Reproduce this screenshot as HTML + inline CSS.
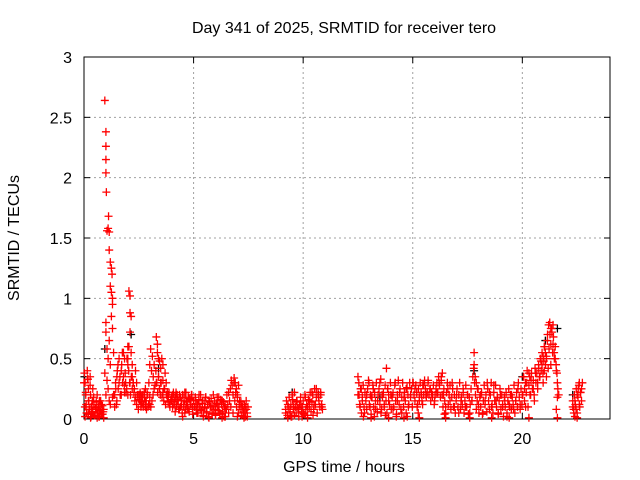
<!DOCTYPE html>
<html><head><meta charset="utf-8"><style>
body{margin:0;background:#fff;}
svg{display:block;font-family:"Liberation Sans",sans-serif;font-size:16px;}
</style></head><body>
<svg id="chart" width="640" height="480">
<rect width="640" height="480" fill="#fff"/>
<g id="grid"></g>
<g id="axes"></g>
<g id="marks"></g>
<text x="344" y="33" text-anchor="middle">Day 341 of 2025, SRMTID for receiver tero</text>
<text x="344" y="472" text-anchor="middle">GPS time / hours</text>
<text transform="translate(19,238) rotate(-90)" text-anchor="middle">SRMTID / TECUs</text>
</svg>
<script>
const xTicks=[0,5,10,15,20];
const yTicks=[0,0.5,1,1.5,2,2.5,3];
const yTickLabels=["0","0.5","1","1.5","2","2.5","3"];
const redHours=[0.02,0.05,0.08,0.1,0.12,0.15,0.18,0.2,0.22,0.25,0.28,0.3,0.33,0.35,0.38,0.4,0.45,0.5,0.55,0.6,0.65,0.7,0.75,0.8,0.85,0.9,0.05,0.2,0.6,0.7,0.4,
0.95,1.0,1.0,1.0,1.0,1.02,1.05,1.1,1.12,1.15,1.15,1.2,1.25,1.28,1.2,1.25,1.3,1.3,1.25,1.0,1.0,1.05,1.15,1.1,1.2,1.05,1.1,0.95,1.15,1.0,1.3,1.35,1.35,1.4,
1.45,1.5,1.55,1.6,1.65,1.7,1.75,1.8,1.85,1.9,1.95,1.5,1.7,1.85,2.0,
2.05,2.1,2.1,2.15,2.1,2.05,2.15,2.2,2.0,2.2,2.25,2.3,2.35,2.4,2.1,2.0,
2.5,2.55,2.6,2.65,2.7,2.75,2.8,2.85,2.9,2.95,3.0,3.05,3.1,3.15,3.2,2.6,2.8,3.0,
3.3,3.35,3.35,3.4,3.45,3.5,3.55,3.6,3.4,3.5,3.6,3.65,3.7,3.75,3.8,3.85,3.3,3.45,3.9,
4.0,4.05,4.1,4.15,4.2,4.25,4.3,4.35,4.4,4.45,4.5,4.55,4.6,4.65,4.7,4.75,4.8,4.85,4.9,4.95,4.2,4.6,5.0,
5.05,5.1,5.15,5.2,5.3,5.4,5.5,5.6,5.7,5.8,5.9,6.0,6.1,6.2,6.3,6.4,6.5,5.25,5.55,5.85,6.15,6.45,6.0,5.45,
6.6,6.7,6.85,6.9,6.95,7.0,7.05,7.1,7.2,7.3,7.4,7.45,7.35,6.8,7.0,
9.2,9.3,9.4,9.5,9.55,9.6,9.7,9.8,9.9,10.0,10.1,10.2,10.3,10.4,10.5,10.6,10.7,10.8,10.85,9.45,9.95,10.45,
12.5,12.55,12.6,12.65,12.7,12.8,12.9,13.0,13.05,13.1,13.2,13.3,13.4,13.5,13.55,13.6,13.7,13.8,13.85,13.9,14.0,14.1,14.2,14.3,14.4,14.5,14.6,14.7,14.8,14.9,15.0,12.75,13.25,13.75,14.25,14.75,
15.1,15.2,15.3,15.4,15.5,15.6,15.7,15.8,15.9,16.0,16.1,16.2,16.3,16.35,16.4,16.5,16.6,16.7,16.8,16.9,15.25,16.45,15.45,
17.0,17.1,17.2,17.3,17.4,17.5,17.6,17.7,17.8,17.8,17.85,17.9,17.95,18.0,18.1,18.2,18.3,18.4,18.5,18.6,18.7,18.8,18.9,19.0,19.1,19.2,19.3,19.4,19.5,19.6,19.7,19.8,19.9,20.0,
20.05,20.1,20.15,20.2,20.3,20.35,20.4,20.5,20.55,20.6,20.7,20.75,20.8,20.85,20.9,20.95,21.0,21.05,21.1,21.15,21.2,21.25,21.3,21.35,21.4,21.45,21.5,21.55,21.6,21.6,21.55,21.0,21.1,21.3,20.95,21.4,
22.3,22.35,22.4,22.45,22.5,22.55,22.6,22.65,22.7,22.4,22.6,
0.3,0.6,0.9,1.2,1.3,4.5,5.7,6.3,7.3,9.3,10.2,13.1,13.9,14.6,15.3,16.5,17.6,18.6,19.4,20.3,21.6,22.5];
const redValues=[0.38,0.3,0.22,0.12,0.05,0.4,0.33,0.25,0.15,0.08,0.35,0.2,0.1,0.04,0.15,0.06,0.12,0.03,0.08,0.05,0.1,0.02,0.06,0.12,0.04,0.08,0.02,0.04,0.2,0.15,0.25,
2.64,2.38,2.26,2.15,2.04,1.88,1.56,1.58,1.68,1.55,1.4,1.3,1.25,1.2,1.1,1.05,1.0,0.95,0.85,0.8,0.72,0.58,0.65,0.5,0.45,0.32,0.25,0.38,0.15,0.2,0.75,0.55,0.2,0.1,
0.25,0.35,0.45,0.3,0.2,0.4,0.55,0.35,0.5,0.3,0.25,0.15,0.2,0.22,0.45,
1.06,1.02,0.88,0.85,0.72,0.6,0.55,0.45,0.5,0.35,0.3,0.25,0.4,0.3,0.3,0.2,
0.2,0.15,0.12,0.18,0.1,0.22,0.15,0.08,0.2,0.12,0.18,0.1,0.15,0.2,0.25,0.2,0.1,0.12,
0.68,0.62,0.55,0.5,0.48,0.42,0.5,0.45,0.35,0.3,0.32,0.25,0.38,0.3,0.22,0.2,0.3,0.25,0.12,
0.15,0.2,0.12,0.18,0.1,0.2,0.15,0.08,0.18,0.12,0.2,0.1,0.15,0.22,0.12,0.08,0.17,0.12,0.2,0.1,0.22,0.05,0.15,
0.1,0.15,0.05,0.12,0.08,0.15,0.1,0.05,0.15,0.1,0.2,0.08,0.12,0.05,0.15,0.1,0.08,0.2,0.18,0.04,0.18,0.02,0.03,0.02,
0.22,0.1,0.34,0.3,0.25,0.2,0.28,0.15,0.1,0.05,0.15,0.02,0.1,0.05,0.02,
0.05,0.12,0.08,0.2,0.1,0.03,0.15,0.08,0.12,0.05,0.18,0.1,0.15,0.22,0.12,0.25,0.18,0.22,0.1,0.02,0.02,0.03,
0.35,0.2,0.1,0.25,0.15,0.05,0.2,0.3,0.1,0.18,0.25,0.08,0.15,0.3,0.05,0.2,0.12,0.42,0.25,0.15,0.2,0.08,0.3,0.15,0.22,0.05,0.18,0.25,0.1,0.2,0.3,0.02,0.02,0.03,0.02,0.02,
0.25,0.1,0.15,0.2,0.28,0.2,0.32,0.25,0.2,0.15,0.22,0.3,0.35,0.38,0.2,0.1,0.25,0.15,0.3,0.1,0.05,0.04,0.12,
0.2,0.05,0.15,0.25,0.1,0.2,0.05,0.15,0.55,0.45,0.35,0.3,0.25,0.12,0.2,0.05,0.15,0.3,0.22,0.1,0.28,0.15,0.05,0.2,0.1,0.15,0.02,0.12,0.2,0.08,0.15,0.25,0.12,0.2,
0.35,0.25,0.1,0.3,0.38,0.2,0.32,0.25,0.15,0.38,0.3,0.42,0.35,0.48,0.45,0.52,0.6,0.55,0.5,0.7,0.78,0.8,0.75,0.72,0.62,0.55,0.5,0.4,0.3,0.18,0.08,0.4,0.35,0.45,0.3,0.78,
0.1,0.05,0.15,0.08,0.2,0.25,0.3,0.22,0.25,0.02,0.12,
0.01,0.01,0.01,0.12,0.18,0.02,0.01,0.01,0.01,0.01,0.01,0.01,0.01,0.01,0.01,0.01,0.01,0.01,0.01,0.01,0.01,0.01];
const runStartHours=[0.0,1.4,4.0,9.2,12.5,22.3];
const runValues=[
[0.3,0.1,0.2,0.05,0.33,0.15,0.08,0.28,0.02,0.12,0.06,0.18,0.03,0.09,0.14,0.05,0.1,0.02,0.07,0.15,0.04,0.11,0.06],
[0.2,0.3,0.12,0.4,0.25,0.5,0.35,0.2,0.45,0.3,0.55,0.28,0.38,0.22,0.5,0.6,0.4,0.3,0.2,0.35,0.25,0.3,0.22,0.15,0.18,0.12,0.2,0.08,0.16,0.22,0.1,0.14,0.2,0.12,0.18,0.25,0.15,0.22,0.1,0.3,0.45,0.58,0.4,0.52,0.35,0.45,0.28,0.4,0.3,0.22,0.35,0.25,0.2,0.3,0.18,0.22,0.15,0.25,0.12,0.2,0.18,0.14,0.22,0.1,0.16],
[0.18,0.1,0.22,0.14,0.06,0.2,0.12,0.16,0.08,0.2,0.1,0.15,0.05,0.18,0.12,0.22,0.08,0.14,0.1,0.18,0.06,0.16,0.12,0.2,0.04,0.15,0.1,0.18,0.08,0.12,0.05,0.16,0.1,0.2,0.07,0.13,0.03,0.15,0.09,0.18,0.06,0.12,0.02,0.14,0.1,0.17,0.05,0.11,0.08,0.15,0.03,0.13,0.18,0.07,0.1,0.04,0.16,0.12,0.06,0.14,0.02,0.1,0.08,0.2,0.12,0.05,0.15,0.25,0.32,0.28,0.2,0.3,0.15,0.22,0.1,0.18,0.05,0.12,0.08,0.14,0.03,0.1,0.06,0.12,0.02,0.08,0.05,0.1],
[0.08,0.15,0.03,0.1,0.18,0.06,0.12,0.02,0.16,0.08,0.22,0.1,0.05,0.14,0.09,0.02,0.12,0.18,0.06,0.1,0.15,0.04,0.2,0.08,0.12,0.03,0.16,0.1,0.22,0.06,0.14,0.2,0.08,0.25,0.12,0.18,0.05,0.22,0.15,0.1,0.2,0.12,0.08],
[0.2,0.3,0.12,0.25,0.05,0.18,0.28,0.1,0.22,0.15,
0.08,0.25,0.32,0.12,0.2,0.04,0.18,0.28,0.1,0.22,
0.15,0.3,0.06,0.2,0.25,0.12,0.33,0.08,0.18,0.22,
0.1,0.28,0.15,0.05,0.25,0.2,0.12,0.3,0.08,0.18,
0.22,0.1,0.28,0.15,0.04,0.2,0.32,0.12,0.25,0.08,
0.18,0.3,0.1,0.22,0.15,0.05,0.26,0.2,0.12,0.3,
0.18,0.25,0.1,0.3,0.2,0.15,0.28,0.22,0.12,0.25,
0.18,0.3,0.22,0.15,0.28,0.2,0.32,0.25,0.18,0.22,
0.3,0.2,0.25,0.15,0.22,0.18,0.28,0.12,0.2,0.25,
0.3,0.22,0.35,0.28,0.18,0.32,0.2,0.1,0.25,0.15,
0.05,0.22,0.3,0.12,0.2,0.28,0.08,0.18,0.25,0.1,
0.2,0.05,0.15,0.25,0.1,0.2,0.3,0.08,0.18,0.12,
0.22,0.05,0.15,0.28,0.1,0.2,0.04,0.18,0.12,0.25,
0.15,0.35,0.42,0.3,0.2,0.08,0.15,0.25,0.05,0.18,
0.1,0.22,0.04,0.15,0.28,0.12,0.2,0.06,0.25,0.15,
0.08,0.2,0.3,0.12,0.05,0.22,0.15,0.28,0.1,0.18,
0.04,0.15,0.25,0.08,0.2,0.12,0.02,0.18,0.1,0.22,
0.05,0.15,0.25,0.1,0.2,0.08,0.18,0.12,0.28,0.05,
0.15,0.22,0.1,0.3,0.18,0.08,0.25,0.12,0.2,0.35,
0.15,0.3,0.22,0.4,0.1,0.28,0.35,0.2,0.38,0.25,
0.32,0.2,0.42,0.3,0.38,0.25,0.45,0.35,0.5,0.4,
0.55,0.38,0.48,0.6,0.45,0.52,0.65,0.42,0.58,0.7,
0.62,0.75,0.55,0.68,0.5,0.6,0.45,0.38,0.25,0.2],
[0.15,0.08,0.2,0.12,0.25,0.05,0.18,0.28,0.1,0.22,0.15,0.3]];
const runStep=0.04;
const blackHours=[0.02,0.95,2.15,3.4,9.5,21.05,21.6,22.3,20.0,17.8,10.7,13.5];
const blackValues=[0.35,0.58,0.7,0.42,0.22,0.65,0.75,0.2,0.35,0.4,0.2,0.18];

const X0=84,X1=610,Y0=419,Y1=57,XMAX=24,YMAX=3;
const sx=h=>X0+(X1-X0)*h/XMAX;
const sy=v=>Y0-(Y0-Y1)*v/YMAX;
const NS="http://www.w3.org/2000/svg";
function mk(tag,attrs,parent){const e=document.createElementNS(NS,tag);for(const k in attrs)e.setAttribute(k,attrs[k]);parent.appendChild(e);return e;}
const grid=document.getElementById('grid'),axes=document.getElementById('axes'),marks=document.getElementById('marks');
xTicks.forEach(t=>{
  const x=sx(t);
  if(t>0){const g=mk('line',{x1:x,x2:x,y1:Y1,y2:Y0,stroke:'#a0a0a0','stroke-dasharray':'2,3'},grid);
  
  }
  mk('line',{x1:x,x2:x,y1:Y0,y2:Y0-6,stroke:'#000'},axes);
  mk('line',{x1:x,x2:x,y1:Y1,y2:Y1+6,stroke:'#000'},axes);
  const l=mk('text',{x:x,y:Y0+25,'text-anchor':'middle'},axes);l.textContent=t;
  
  
});
yTicks.forEach((t,i)=>{
  const y=sy(t);
  if(t>0&&t<YMAX){const g=mk('line',{x1:X0,x2:X1,y1:y,y2:y,stroke:'#a0a0a0','stroke-dasharray':'2,3'},grid);
  
  }
  mk('line',{x1:X0,x2:X0+6,y1:y,y2:y,stroke:'#000'},axes);
  mk('line',{x1:X1,x2:X1-6,y1:y,y2:y,stroke:'#000'},axes);
  const l=mk('text',{x:X0-12,y:y+6,'text-anchor':'end'},axes);l.textContent=yTickLabels[i];
  
  
});
const frame=mk('rect',{x:X0,y:Y1,width:X1-X0,height:Y0-Y1,fill:'none',stroke:'#000'},axes);


function plus(h,v,color){
  const x=sx(h),y=sy(v);
  return mk('path',{d:`M${x-4},${y}H${x+4}M${x},${y-4}V${y+4}`,stroke:color,'stroke-width':1.3,fill:'none'},marks);
}
blackHours.forEach((h,i)=>{const p=plus(h,blackValues[i],'#000');
  
  });
runValues.forEach((vals,r)=>{vals.forEach((v,i)=>{
  const p=plus(runStartHours[r]+i*runStep,v,'#f00');
  
  });});
redHours.forEach((h,i)=>{const p=plus(h,redValues[i],'#f00');
  
  });
</script>
</body></html>
